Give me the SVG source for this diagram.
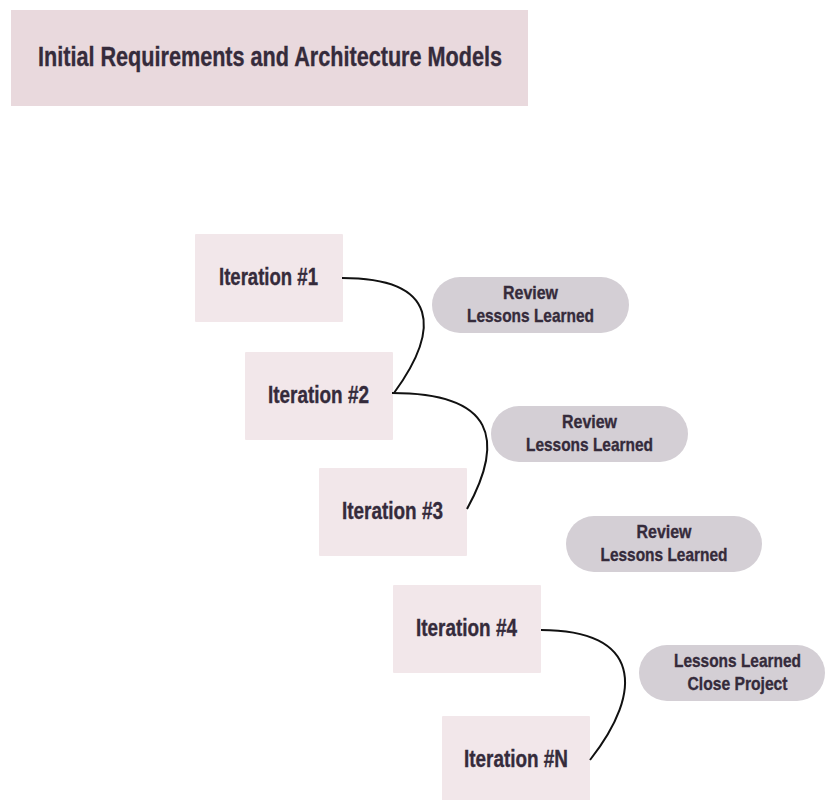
<svg xmlns="http://www.w3.org/2000/svg" width="825" height="800" viewBox="0 0 825 800">
  <style>
    .title { fill: #e9d9dd; }
    .iter { fill: #f2e7ea; }
    .pill { fill: #d4cfd5; }
    text { font-family: "Liberation Sans", Arial, sans-serif; font-weight: bold; fill: #352b3b; stroke: #352b3b; stroke-width: 0.35; text-anchor: middle; }
    .t-title { font-size: 27px; }
    .t-iter { font-size: 23px; }
    .t-pill { font-size: 18.5px; }
    .conn { fill: none; stroke: #111; stroke-width: 2; }
  </style>
  <rect width="825" height="800" fill="#ffffff"/>

  <g id="models">
    <rect class="title" x="11" y="10" width="517" height="96"/>
    <text class="t-title" x="270" y="66" textLength="464" lengthAdjust="spacingAndGlyphs">Initial Requirements and Architecture Models</text>
  </g>

  <g id="iteration-1">
    <rect class="iter" x="195" y="234" width="148" height="88" rx="1"/>
    <text class="t-iter" x="268.5" y="285" textLength="99" lengthAdjust="spacingAndGlyphs">Iteration #1</text>
  </g>
  <g id="iteration-2">
    <rect class="iter" x="245" y="352" width="148" height="88" rx="1"/>
    <text class="t-iter" x="318.5" y="403" textLength="101" lengthAdjust="spacingAndGlyphs">Iteration #2</text>
  </g>
  <g id="iteration-3">
    <rect class="iter" x="319" y="468" width="148" height="88" rx="1"/>
    <text class="t-iter" x="392.5" y="519" textLength="101" lengthAdjust="spacingAndGlyphs">Iteration #3</text>
  </g>
  <g id="iteration-4">
    <rect class="iter" x="393" y="585" width="148" height="88" rx="1"/>
    <text class="t-iter" x="466.5" y="636" textLength="101" lengthAdjust="spacingAndGlyphs">Iteration #4</text>
  </g>
  <g id="iteration-n">
    <rect class="iter" x="442" y="716" width="148" height="88" rx="1"/>
    <text class="t-iter" x="516" y="767" textLength="104" lengthAdjust="spacingAndGlyphs">Iteration #N</text>
  </g>

  <g id="review-1">
    <rect class="pill" x="432" y="277" width="197" height="56" rx="28"/>
    <text class="t-pill" x="530.5" y="299" textLength="55" lengthAdjust="spacingAndGlyphs">Review</text>
    <text class="t-pill" x="530.5" y="322" textLength="127" lengthAdjust="spacingAndGlyphs">Lessons Learned</text>
  </g>
  <g id="review-2">
    <rect class="pill" x="491" y="406" width="197" height="56" rx="28"/>
    <text class="t-pill" x="589.5" y="428" textLength="55" lengthAdjust="spacingAndGlyphs">Review</text>
    <text class="t-pill" x="589.5" y="451" textLength="127" lengthAdjust="spacingAndGlyphs">Lessons Learned</text>
  </g>
  <g id="review-3">
    <rect class="pill" x="566" y="516" width="196" height="56" rx="28"/>
    <text class="t-pill" x="664" y="538" textLength="55" lengthAdjust="spacingAndGlyphs">Review</text>
    <text class="t-pill" x="664" y="561" textLength="127" lengthAdjust="spacingAndGlyphs">Lessons Learned</text>
  </g>
  <g id="close-project">
    <rect class="pill" x="639" y="645" width="186" height="56" rx="28"/>
    <text class="t-pill" x="737.5" y="667" textLength="127" lengthAdjust="spacingAndGlyphs">Lessons Learned</text>
    <text class="t-pill" x="737.5" y="690" textLength="100" lengthAdjust="spacingAndGlyphs">Close Project</text>
  </g>

  <g id="connectors">
    <path class="conn" d="M342,278 C440,278 440,330 394,393"/>
    <path class="conn" d="M392,393 C495,393 505,440 467,509"/>
    <path class="conn" d="M541,630 C640,630 645,690 590,760"/>
  </g>
</svg>
